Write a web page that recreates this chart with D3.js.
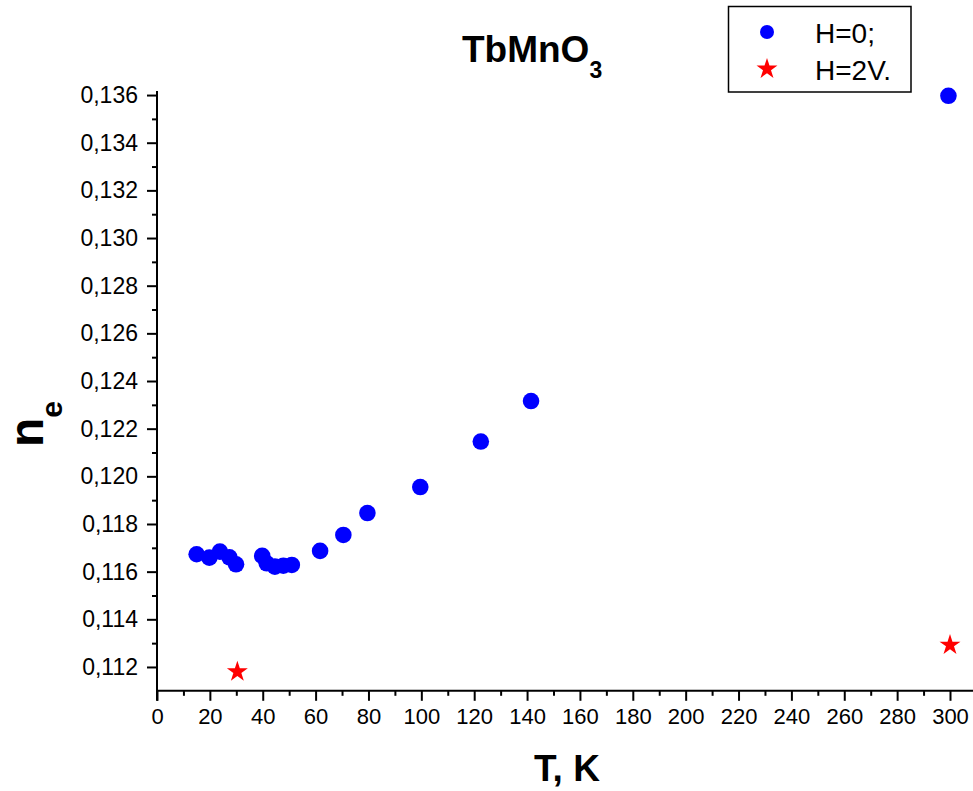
<!DOCTYPE html>
<html>
<head>
<meta charset="utf-8">
<script src="https://cdn.jsdelivr.net/npm/d3@7"></script>
<style>
  body { margin: 0; background: #fff; }
  svg { display: block; font-family: Arial, "Liberation Sans", sans-serif; }
</style>
</head>
<body>
<div id="chart"></div>
<script>
// H=0 series
const tempH0 = [15.0, 19.8, 23.8, 27.4, 29.9, 39.8, 41.5, 44.6, 47.8, 51.0, 61.7, 70.5, 79.6, 99.6, 122.5, 141.5, 299.4];
const neH0 = [0.11673, 0.11659, 0.11684, 0.1166, 0.11631, 0.11666, 0.11635, 0.11621, 0.11625, 0.11628, 0.11687, 0.11754, 0.11846, 0.11955, 0.12146, 0.12316, 0.13597];

// H=2V series
const tempH2 = [30.4, 300];
const neH2 = [0.1118, 0.11292];

const xTicks = d3.range(0, 301, 20);
const yTicks = d3.range(0, 13).map((i) => 0.112 + i * 0.002);
const legendLabels = ["H=0;", "H=2V."];

const width = 973;
const height = 791;

const svg = d3
  .select("#chart")
  .append("svg")
  .attr("width", width)
  .attr("height", height);

const x = d3.scaleLinear().domain([0, 310]).range([157, 157 + (793 * 310) / 300]);
const y = d3.scaleLinear().domain([0.111, 0.13617]).range([690.8, 91]);

const fmt = (v) => d3.format(".3f")(v).replace(".", ",");

// x axis - minor ticks then major
const xAxisG = svg.append("g").attr("transform", `translate(0,${y(0.111)})`);
xAxisG
  .call(d3.axisBottom(x).tickValues(d3.range(10, 311, 20)).tickSize(5).tickFormat(""))
  .call((g) => g.select(".domain").remove());
xAxisG
  .append("g")
  .call(d3.axisBottom(x).tickValues(xTicks).tickSize(10).tickPadding(8).tickFormat(d3.format("d")))
  .call((g) => g.select(".domain").remove())
  .call((g) => g.selectAll("text").style("font-size", "22px").attr("fill", "#000"));
xAxisG
  .append("line")
  .attr("x1", x(0) - 1)
  .attr("x2", width)
  .attr("stroke", "#000")
  .attr("stroke-width", 2);
xAxisG.selectAll(".tick line").attr("stroke", "#000").attr("stroke-width", 2);

// y axis - minor ticks sit between the labelled ones
const yAxisG = svg.append("g").attr("transform", `translate(${x(0)},0)`);
yAxisG
  .call(d3.axisLeft(y).tickValues(d3.range(0, 12).map((i) => 0.113 + i * 0.002)).tickSize(5).tickFormat(""))
  .call((g) => g.select(".domain").remove());
yAxisG
  .append("g")
  .call(d3.axisLeft(y).tickValues(yTicks).tickSize(10).tickPadding(9).tickFormat(fmt))
  .call((g) => g.select(".domain").remove())
  .call((g) => g.selectAll("text").style("font-size", "23px").attr("fill", "#000"));
yAxisG
  .append("line")
  .attr("y1", y(0.13617))
  .attr("y2", y(0.111) + 10)
  .attr("stroke", "#000")
  .attr("stroke-width", 2);
yAxisG.selectAll(".tick line").attr("stroke", "#000").attr("stroke-width", 2);

// data points
svg
  .append("g")
  .selectAll("circle")
  .data(tempH0.map((t, i) => [t, neH0[i]]))
  .enter()
  .append("circle")
  .attr("cx", (d) => x(d[0]))
  .attr("cy", (d) => y(d[1]))
  .attr("r", 8.3)
  .attr("fill", "#0000ff");

const star = d3.symbol().type(d3.symbolStar).size(136);
svg
  .append("g")
  .selectAll("path")
  .data(tempH2.map((t, i) => [t, neH2[i]]))
  .enter()
  .append("path")
  .attr("d", star)
  .attr("transform", (d) => `translate(${x(d[0])},${y(d[1])})`)
  .attr("fill", "#ff0000");

// title
const title = svg
  .append("text")
  .attr("x", 462)
  .attr("y", 62)
  .style("font-size", "37px")
  .style("font-weight", "bold")
  .text("TbMnO");
title.append("tspan").attr("dy", 16).style("font-size", "23px").text("3");

// axis titles
svg
  .append("text")
  .attr("x", 567)
  .attr("y", 781)
  .attr("text-anchor", "middle")
  .style("font-size", "37px")
  .style("font-weight", "bold")
  .text("T, K");

const yTitle = svg
  .append("text")
  .attr("transform", "translate(43,447) rotate(-90)")
  .style("font-size", "48px")
  .style("font-weight", "bold")
  .text("n");
yTitle.append("tspan").attr("dy", 19).style("font-size", "30px").text("e");

// legend
const legend = svg.append("g");
legend
  .append("rect")
  .attr("x", 728.5)
  .attr("y", 6.5)
  .attr("width", 182.5)
  .attr("height", 85.5)
  .attr("fill", "#fff")
  .attr("stroke", "#000")
  .attr("stroke-width", 1.5);
legend
  .append("circle")
  .attr("cx", 767)
  .attr("cy", 32)
  .attr("r", 7)
  .attr("fill", "#0000ff");
legend
  .append("path")
  .attr("d", star)
  .attr("transform", "translate(767,69)")
  .attr("fill", "#ff0000");
legend
  .selectAll(".legend-label")
  .data(legendLabels)
  .enter()
  .append("text")
  .attr("class", "legend-label")
  .attr("x", 815)
  .attr("y", (d, i) => 43 + i * 37)
  .style("font-size", "28px")
  .text((d) => d);
</script>
</body>
</html>
